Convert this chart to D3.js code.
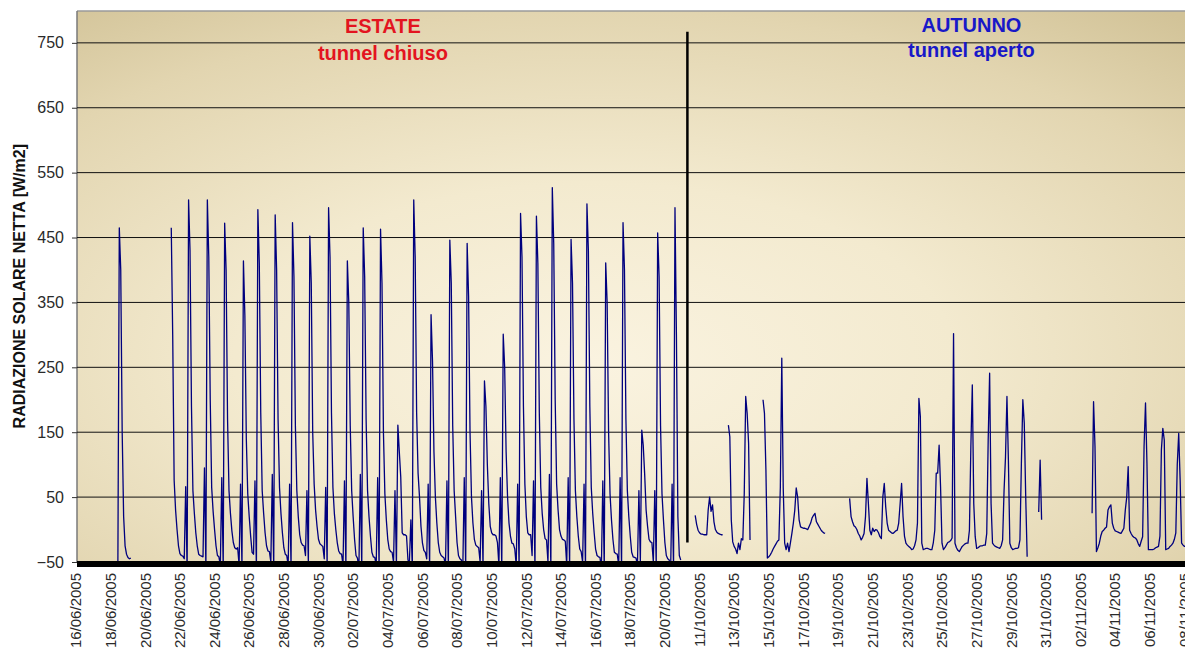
<!DOCTYPE html>
<html>
<head>
<meta charset="utf-8">
<script src="https://cdn.jsdelivr.net/npm/d3@7/dist/d3.min.js"></script>
<style>
body { margin: 0; background: #fff; overflow: hidden; }
svg { display: block; font-family: "Liberation Sans", Arial, sans-serif; }
</style>
</head>
<body>
<svg id="chart" width="1185" height="651"></svg>
<script>
'use strict';

// giorni (categorie dell'asse x)
const giorniEstate = [
  '16/06/2005', '17/06/2005', '18/06/2005', '19/06/2005', '20/06/2005', '21/06/2005', '22/06/2005',
  '23/06/2005', '24/06/2005', '25/06/2005', '26/06/2005', '27/06/2005', '28/06/2005', '29/06/2005',
  '30/06/2005', '01/07/2005', '02/07/2005', '03/07/2005', '04/07/2005', '05/07/2005', '06/07/2005',
  '07/07/2005', '08/07/2005', '09/07/2005', '10/07/2005', '11/07/2005', '12/07/2005', '13/07/2005',
  '14/07/2005', '15/07/2005', '16/07/2005', '17/07/2005', '18/07/2005', '19/07/2005', '20/07/2005'
];
const giorniAutunno = [
  '10/10/2005', '11/10/2005', '12/10/2005', '13/10/2005', '14/10/2005', '15/10/2005', '16/10/2005',
  '17/10/2005', '18/10/2005', '19/10/2005', '20/10/2005', '21/10/2005', '22/10/2005', '23/10/2005',
  '24/10/2005', '25/10/2005', '26/10/2005', '27/10/2005', '28/10/2005', '29/10/2005', '30/10/2005',
  '31/10/2005', '01/11/2005', '02/11/2005', '03/11/2005', '04/11/2005', '05/11/2005', '06/11/2005',
  '07/11/2005', '08/11/2005'
];

// radiazione solare netta [W/m2], una riga per giorno, letture ogni 2 ore (00, 02, ... 22)
const N = null;
const estate = [
  [N, N, N, N, N, N, N, N, N, N, N, N],
  [N, N, N, N, N, N, N, N, N, N, N, N],
  [N, N, N, N, N, -60, 465, 400, 150, 20, -25, -38],
  [-43, -45, -44, N, N, N, N, N, N, N, N, N],
  [N, N, N, N, N, N, N, N, N, N, N, N],
  [N, N, N, N, N, N, 465, 300, 76, 30, 0, -25],
  [-37, -40, -41, -45, 66, -65, 508, 430, 190, 60, 25, -5],
  [-25, -38, -40, -41, -42, 95, -60, 508, 420, 200, 65, 28],
  [0, -25, -40, -42, -55, 80, -60, 472, 400, 170, 60, 25],
  [-2, -20, -28, -30, -28, -55, 70, -60, 414, 330, 140, 55],
  [20, -10, -35, -38, 75, -60, 493, 410, 180, 60, 25, -5],
  [-25, -33, -34, -50, 85, -60, 485, 400, 170, 65, 25, -5],
  [-28, -38, -40, -55, 70, -60, 473, 390, 160, 60, 20, -8],
  [-20, -24, -25, -40, 60, -55, 452, 380, 150, 70, 30, 5],
  [-15, -22, -24, -26, -45, 65, -55, 496, 420, 180, 65, 25],
  [0, -20, -33, -37, -38, -55, 75, -60, 414, 350, 160, 60],
  [20, -15, -40, -44, -60, 85, -60, 465, 390, 170, 60, 20],
  [-10, -35, -42, -43, -55, 80, -60, 463, 380, 150, 55, 15],
  [-15, -30, -34, -35, -50, 60, -55, 161, 120, 81, -5, -8],
  [-8, -10, -47, -50, 15, -60, 508, 420, 180, 87, 50, 5],
  [-20, -32, -35, -45, 70, -60, 331, 260, 120, 50, 10, -20],
  [-35, -40, -42, -44, -55, 75, -60, 446, 380, 160, 60, 20],
  [-20, -40, -45, -47, -60, 80, -60, 441, 360, 150, 50, 10],
  [-15, -24, -26, -28, -50, 60, -55, 229, 190, 100, 40, 5],
  [-5, -8, -8, -10, -20, -55, 80, -60, 301, 250, 120, 50],
  [10, -10, -21, -22, -30, -55, 70, -60, 487, 420, 190, 70],
  [20, -5, -8, -8, -40, 75, -60, 483, 410, 180, 65, 25],
  [0, -14, -16, -50, 85, -60, 527, 440, 200, 70, 30, 0],
  [-10, -15, -16, -18, -55, 80, -60, 447, 380, 170, 60, 20],
  [-10, -30, -34, -50, 70, -60, 502, 430, 190, 65, 25, -5],
  [-30, -40, -42, -43, -60, 75, -60, 411, 350, 150, 55, 15],
  [-15, -35, -37, -38, -55, 80, -60, 473, 400, 170, 60, 20],
  [-10, -35, -42, -43, -44, -55, 60, -50, 153, 130, 85, 30],
  [5, -15, -19, -20, -50, 60, -55, 457, 390, 160, 55, 15],
  [-20, -40, -45, -47, -60, 70, -60, 496, 300, 20, -40, -47]
];
const autunno = [
  [N, N, N, N, N, N, N, N, N, 22, 8, -1],
  [-5, -7, -7, -8, -8, -8, 30, 50, 28, 38, 12, 0],
  [-4, -6, -7, -8, -8, N, N, N, 161, 143, 15, -19],
  [-26, -30, -37, -21, -31, -14, -16, 56, 205, 179, 133, -16],
  [N, N, N, N, N, N, N, N, 200, 179, 92, -44],
  [-42, -39, -35, -30, -26, -22, -18, -16, 66, 264, 64, -21],
  [-31, -21, -34, -20, -6, 10, 30, 64, 50, 15, 4, 3],
  [2, 2, 1, 0, 5, 10, 18, 22, 25, 12, 8, 4],
  [0, -3, -5, -6, N, N, N, N, N, N, N, N],
  [N, N, N, N, N, N, N, N, 48, 20, 12, 6],
  [4, 0, -6, -10, -16, -12, -6, 20, 79, 40, -1, -8],
  [2, -3, 0, -1, -5, -11, -14, 50, 71, 35, 10, -1],
  [-3, -5, -6, -4, -2, -1, 10, 40, 71, 20, -10, -21],
  [-24, -26, -28, -31, -30, -25, -16, 10, 202, 174, -21, -31],
  [-30, -29, -29, -30, -31, -31, -20, -1, 87, 87, 130, 66],
  [-21, -31, -28, -24, -20, -19, -17, -13, 302, -21, -28, -32],
  [-34, -30, -26, -24, -22, -21, -21, -1, 128, 223, 40, -11],
  [-29, -28, -26, -25, -25, -24, -24, -6, 138, 241, 40, -21],
  [-24, -26, -27, -28, -29, -25, -16, 60, 112, 205, 107, -21],
  [-28, -31, -30, -29, -29, -28, -16, 102, 200, 164, 51, -42],
  [N, N, N, N, N, N, N, 27, 107, 15, N, N],
  [N, N, N, N, N, N, N, N, N, N, N, N],
  [N, N, N, N, N, N, N, N, N, N, N, N],
  [N, N, N, N, N, N, N, N, 25, 197, 128, -34],
  [-28, -21, -10, -3, -1, 2, 4, 30, 35, 38, 10, 2],
  [-2, -3, -4, -5, -6, -2, 2, 30, 50, 97, -1, -6],
  [-10, -12, -13, -16, -22, -26, -18, -11, 128, 195, 102, -31],
  [-31, -31, -31, -30, -28, -27, -26, -10, 123, 156, 138, -31],
  [-30, -29, -26, -24, -21, -15, -5, 100, 148, 76, -21, -24],
  [-26, -25, -22, -15, N, N, N, N, N, N, N, N]
];

const yTicks = [-50, 50, 150, 250, 350, 450, 550, 650, 750];
const yMin = -50;
const yMax = 800;
// separazione tra i due periodi: posizione in giorni e valori estremi
const separatore = { giorno: 35.3, da: -20, a: 767 };

const giorni = giorniEstate.concat(giorniAutunno);

function buildPoints() {
  const punti = [];
  estate.forEach(function(riga, g) {
    riga.forEach(function(v, k) { punti.push({ t: g + k / 12, v: v }); });
  });
  autunno.forEach(function(riga, g) {
    riga.forEach(function(v, k) { punti.push({ t: giorniEstate.length + g + k / 12, v: v }); });
  });
  return punti;
}

function makeChart() {
  const dayWidth = 17.32;
  const x0 = 76;
  const plotLeft = 77;
  const plotTop = 11;

  const x = d3.scaleLinear()
    .domain([0, giorni.length])
    .range([x0, x0 + giorni.length * dayWidth]);
  const y = d3.scaleLinear()
    .domain([yMin, yMax])
    .range([562, 10.4]);

  const plotRight = x(giorni.length);
  const plotBottom = y(yMin);

  const svg = d3.select('#chart');
  const defs = svg.append('defs');

  // sfondo sfumato, chiaro al centro e color sabbia ai bordi
  const grad = defs.append('radialGradient')
    .attr('id', 'sfondo')
    .attr('cx', 0.46).attr('cy', 0.62).attr('r', 0.8)
    .attr('fx', 0.46).attr('fy', 0.64);
  grad.append('stop').attr('offset', 0).attr('stop-color', '#faf3e0');
  grad.append('stop').attr('offset', 0.4).attr('stop-color', '#f3eacf');
  grad.append('stop').attr('offset', 0.78).attr('stop-color', '#e2d5b0');
  grad.append('stop').attr('offset', 1).attr('stop-color', '#d2c398');

  defs.append('clipPath').attr('id', 'clip')
    .append('rect')
    .attr('x', plotLeft).attr('y', plotTop)
    .attr('width', plotRight - plotLeft).attr('height', plotBottom - plotTop);

  svg.append('rect')
    .attr('x', plotLeft).attr('y', plotTop)
    .attr('width', plotRight - plotLeft).attr('height', plotBottom - plotTop)
    .attr('fill', 'url(#sfondo)');

  // bordo dell'area del grafico
  svg.append('line')
    .attr('x1', plotLeft).attr('x2', plotRight)
    .attr('y1', plotTop).attr('y2', plotTop)
    .attr('stroke', '#9a9a9a').attr('stroke-width', 1.5);
  svg.append('line')
    .attr('x1', plotLeft).attr('x2', plotLeft)
    .attr('y1', plotTop).attr('y2', plotBottom)
    .attr('stroke', '#7a7a7a').attr('stroke-width', 1.5);

  // griglia orizzontale
  svg.append('g')
    .selectAll('line')
    .data(yTicks.filter(function(t) { return t > yMin; }))
    .enter()
    .append('line')
    .attr('x1', plotLeft).attr('x2', plotRight)
    .attr('y1', function(d) { return y(d); })
    .attr('y2', function(d) { return y(d); })
    .attr('stroke', '#111').attr('stroke-width', 1);

  // asse y
  const yAxis = d3.axisLeft(y)
    .tickValues(yTicks)
    .tickSize(5)
    .tickPadding(8)
    .tickFormat(d3.format('d'));
  const gy = svg.append('g')
    .attr('transform', 'translate(' + plotLeft + ',0)')
    .call(yAxis);
  gy.select('.domain').remove();
  gy.selectAll('.tick line').attr('stroke', '#333');
  gy.selectAll('.tick text')
    .attr('fill', '#2a2a2a')
    .style('font-size', '16px')
    .style('font-family', '"Liberation Sans", Arial, sans-serif');

  svg.append('text')
    .attr('transform', 'translate(25,' + y(375) + ') rotate(-90)')
    .attr('text-anchor', 'middle')
    .style('font-size', '16px')
    .style('font-weight', 'bold')
    .attr('fill', '#111')
    .text('RADIAZIONE SOLARE NETTA [W/m2]');

  // linea dei dati
  const linea = d3.line()
    .defined(function(d) { return d.v !== null; })
    .x(function(d) { return x(d.t); })
    .y(function(d) { return y(d.v); });

  svg.append('path')
    .datum(buildPoints())
    .attr('clip-path', 'url(#clip)')
    .attr('fill', 'none')
    .attr('stroke', '#00007e')
    .attr('stroke-width', 1.3)
    .attr('stroke-linejoin', 'round')
    .attr('d', linea);

  // asse x: linea spessa e date ogni due giorni
  svg.append('rect')
    .attr('x', plotLeft).attr('y', plotBottom - 1)
    .attr('width', plotRight - plotLeft).attr('height', 6)
    .attr('fill', '#000');

  const etichette = giorni.map(function(g, i) { return { g: g, i: i }; })
    .filter(function(d) {
      return d.i < giorniEstate.length ? d.i % 2 === 0 : (d.i - giorniEstate.length) % 2 === 1;
    });

  svg.append('g')
    .selectAll('text')
    .data(etichette)
    .enter()
    .append('text')
    .attr('transform', function(d) { return 'translate(' + x(d.i) + ',' + (plotBottom + 11) + ') rotate(-90)'; })
    .attr('text-anchor', 'end')
    .attr('dy', '0.35em')
    .style('font-size', '15px')
    .attr('fill', '#2a2a2a')
    .text(function(d) { return d.g; });

  // separatore verticale
  svg.append('line')
    .attr('x1', x(separatore.giorno)).attr('x2', x(separatore.giorno))
    .attr('y1', y(separatore.a)).attr('y2', y(separatore.da))
    .attr('stroke', '#000').attr('stroke-width', 2.5);

  // titoli dei periodi
  const titoli = [
    { righe: ['ESTATE', 'tunnel chiuso'], colore: '#e3141f', giorno: 17.72, base: [33, 60] },
    { righe: ['AUTUNNO', 'tunnel aperto'], colore: '#1818c8', giorno: 51.7, base: [31.5, 57] }
  ];
  titoli.forEach(function(t) {
    t.righe.forEach(function(r, j) {
      svg.append('text')
        .attr('x', x(t.giorno))
        .attr('y', t.base[j])
        .attr('text-anchor', 'middle')
        .style('font-size', '20px')
        .style('font-weight', 'bold')
        .attr('fill', t.colore)
        .text(r);
    });
  });
}

makeChart();
</script>
</body>
</html>
